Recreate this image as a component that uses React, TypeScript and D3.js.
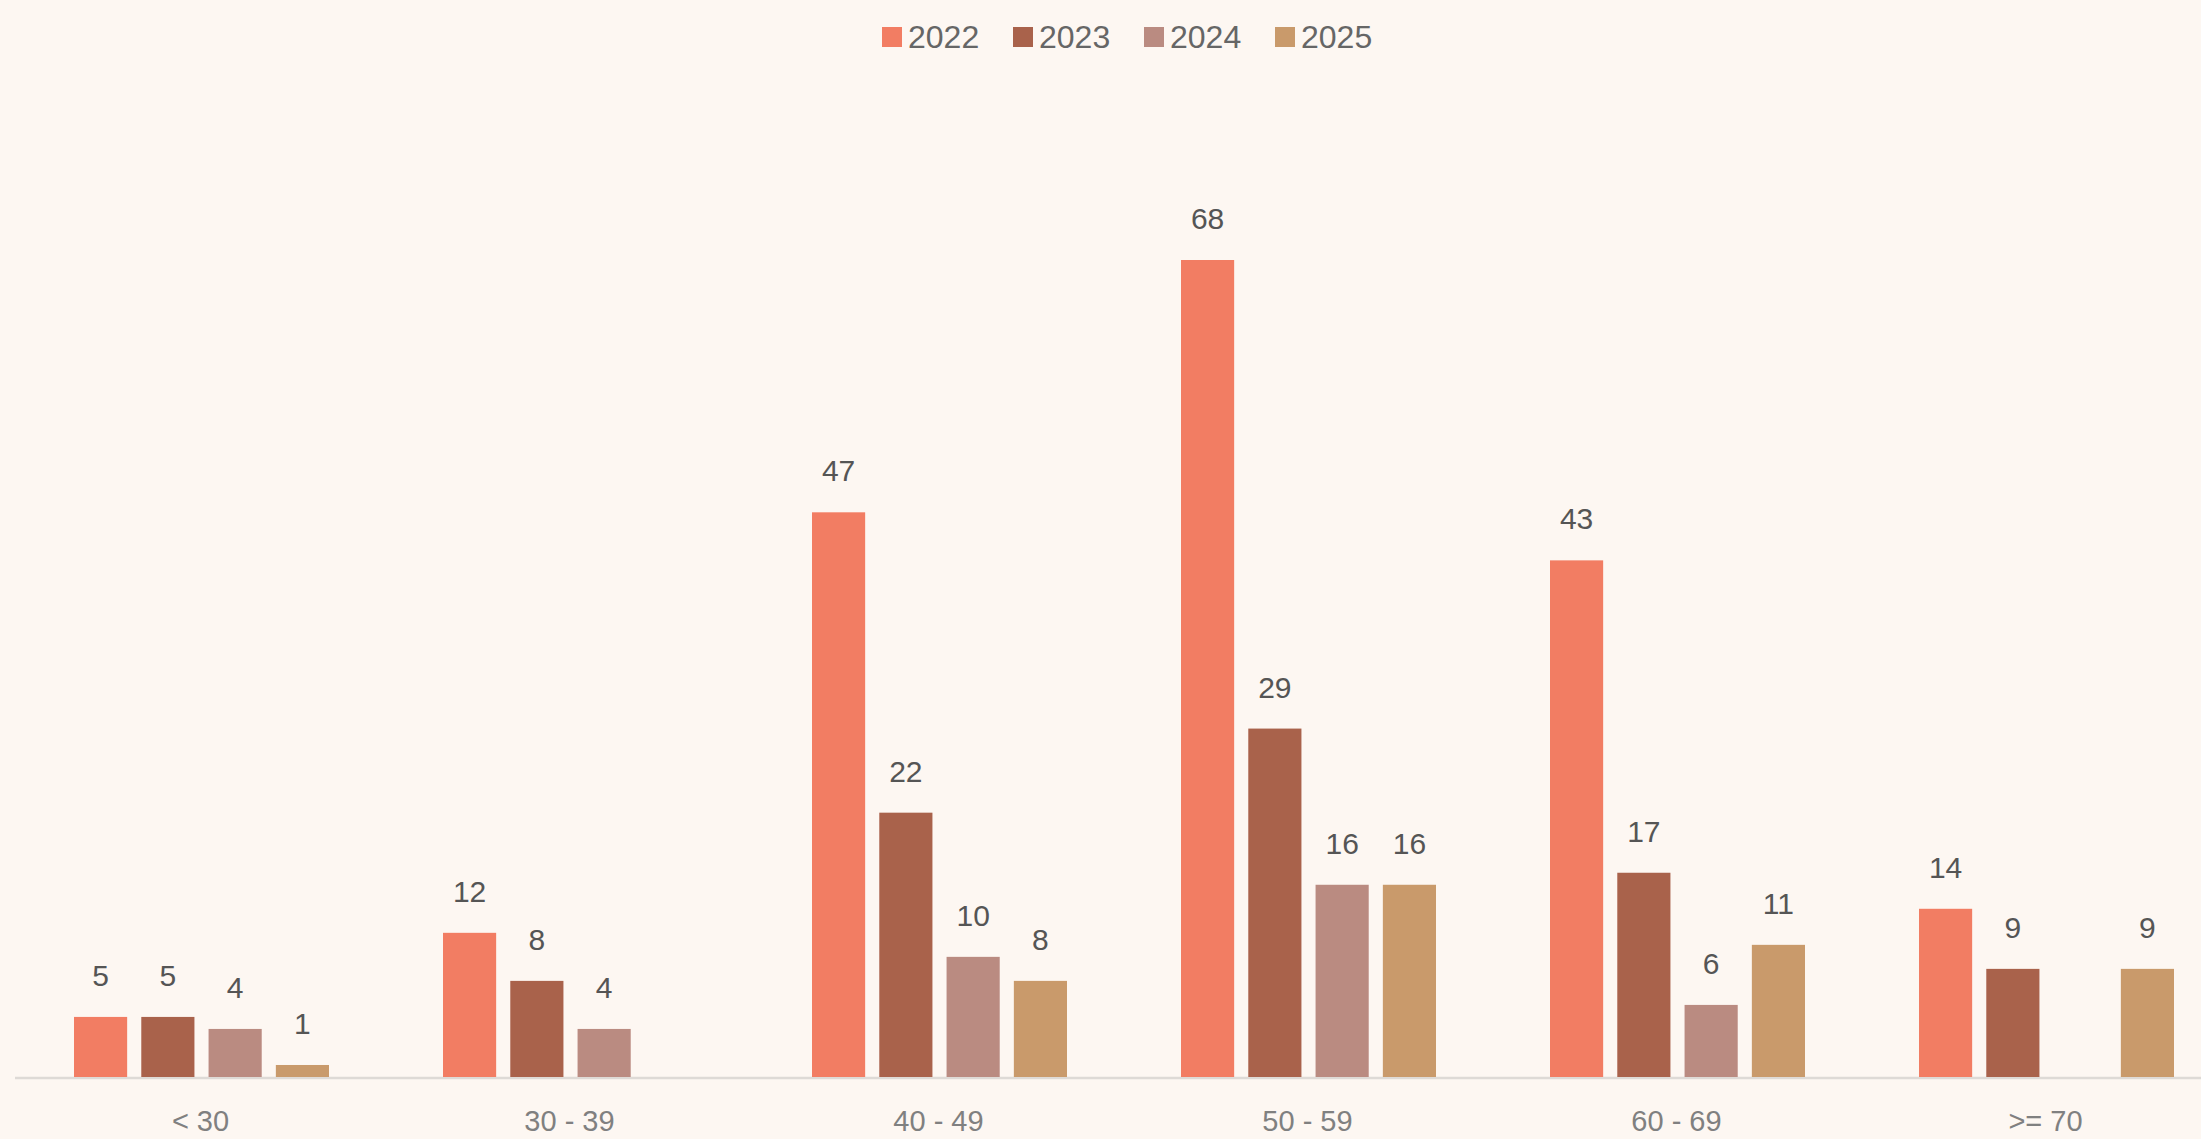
import * as d3 from "d3";
import { useEffect, useRef } from "react";

const categories = ["< 30", "30 - 39", "40 - 49", "50 - 59", "60 - 69", ">= 70"];
const years = ["2022", "2023", "2024", "2025"];
const values2022 = [5, 12, 47, 68, 43, 14];
const values2023 = [5, 8, 22, 29, 17, 9];
const values2024: (number | null)[] = [4, 4, 10, 16, 6, null];
const values2025: (number | null)[] = [1, null, 8, 16, 11, 9];
const colors = ["#f27d63", "#a9624b", "#ba8b81", "#c99a6b"];

const series = [values2022, values2023, values2024, values2025];

export default function App() {
    const svgRef = useRef<SVGSVGElement | null>(null);

    useEffect(() => {
        document.body.style.margin = "0";
        if (!svgRef.current) return;

        const totalW = 2201;
        const totalH = 1139;
        const baseY = 1077;

        const svg = d3.select(svgRef.current);
        svg.attr("width", totalW).attr("height", totalH);
        svg.selectAll("*").remove();

        svg.append("rect")
            .attr("width", totalW)
            .attr("height", totalH)
            .attr("fill", "#fdf7f2");

        const x0 = d3.scaleBand().domain(categories).range([17, 2231]);
        const x1 = d3.scaleBand().domain(years).range([57, 312]).paddingInner(0.21);
        const y = d3.scaleLinear().domain([0, 68]).range([baseY, 260]);

        const font = "'Liberation Sans', Arial, sans-serif";

        // baseline
        svg.append("line")
            .attr("x1", 15)
            .attr("x2", totalW)
            .attr("y1", baseY + 1)
            .attr("y2", baseY + 1)
            .attr("stroke", "#dedad6")
            .attr("stroke-width", 2.5);

        const rows = categories.flatMap((c, i) =>
            years.map((yr, j) => ({ cat: c, year: yr, idx: j, v: series[j][i] }))
        ).filter((d) => d.v != null) as { cat: string; year: string; idx: number; v: number }[];

        const groups = svg.append("g");

        groups.selectAll("rect.bar")
            .data(rows)
            .join("rect")
            .attr("class", "bar")
            .attr("x", (d) => x0(d.cat)! + x1(d.year)!)
            .attr("y", (d) => y(d.v))
            .attr("width", x1.bandwidth())
            .attr("height", (d) => baseY - y(d.v))
            .attr("fill", (d) => colors[d.idx]);

        groups.selectAll("text.val")
            .data(rows)
            .join("text")
            .attr("class", "val")
            .attr("x", (d) => x0(d.cat)! + x1(d.year)! + x1.bandwidth() / 2)
            .attr("y", (d) => y(d.v) - 31)
            .attr("text-anchor", "middle")
            .attr("font-family", font)
            .attr("font-size", 30)
            .attr("fill", "#555")
            .text((d) => d.v);

        // category labels
        svg.append("g")
            .selectAll("text")
            .data(categories)
            .join("text")
            .attr("x", (d) => x0(d)! + x0.bandwidth() / 2 - 1)
            .attr("y", 1131)
            .attr("text-anchor", "middle")
            .attr("font-family", font)
            .attr("font-size", 29)
            .attr("fill", "#808080")
            .text((d) => d);

        // legend
        const legendX = d3.scalePoint().domain(years).range([882, 1275]);
        const leg = svg.append("g")
            .selectAll("g")
            .data(years)
            .join("g")
            .attr("transform", (d) => `translate(${legendX(d)},37)`);

        leg.append("rect")
            .attr("x", 0)
            .attr("y", -10)
            .attr("width", 20)
            .attr("height", 20)
            .attr("fill", (d, i) => colors[i]);

        leg.append("text")
            .attr("x", 26)
            .attr("y", 11)
            .attr("font-family", font)
            .attr("font-size", 32)
            .attr("fill", "#666")
            .text((d) => d);
    }, []);

    return <svg ref={svgRef} style={{ display: "block" }} />;
}
